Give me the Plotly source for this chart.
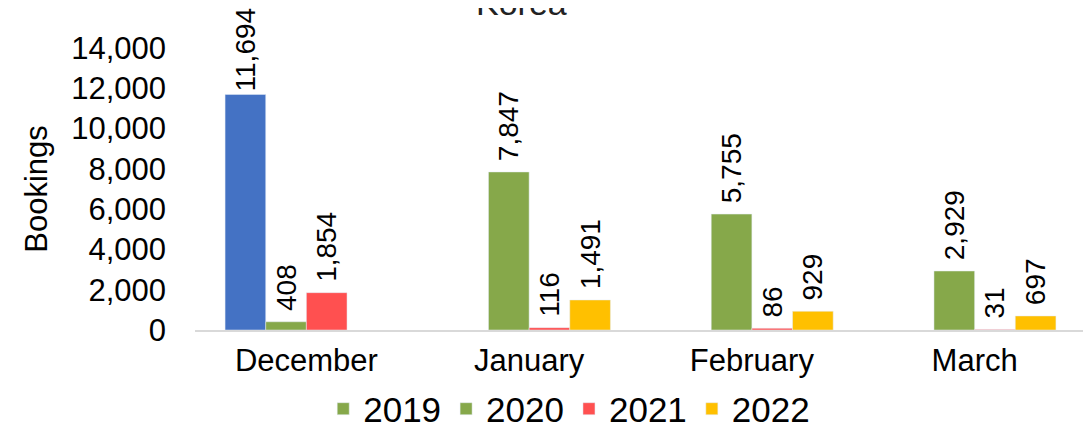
import plotly.graph_objects as go

categories = ["December", "January", "February", "March"]
series_names = ["2019", "2020", "2021", "2022"]

# 2019 listed with December last so the legend swatch takes the series (green) colour
x_2019 = ["January", "February", "March", "December"]
v_2019 = [None, None, None, 11694]
v_2020 = [408, 7847, 5755, 2929]
v_2021 = [1854, 116, 86, 31]
v_2022 = [None, 1491, 929, 697]

GREEN = "#86A84A"
BLUE = "#4472C4"
RED = "#FF5050"
YELLOW = "#FFC000"
colors_2019 = [GREEN, GREEN, GREEN, BLUE]

FONT = "Liberation Sans, Arial, sans-serif"
label_font = dict(family=FONT, size=28, color="black")

common = dict(textposition="outside", textangle=-90, textfont=label_font,
              cliponaxis=False, constraintext="none")

fig = go.Figure()
fig.add_trace(go.Bar(name="2019", x=x_2019, y=v_2019, marker_color=colors_2019,
                     texttemplate="%{y:,}", **common))
fig.add_trace(go.Bar(name="2020", x=categories, y=v_2020, marker_color=GREEN,
                     texttemplate="\u00a0%{y:,}", **common))
fig.add_trace(go.Bar(name="2021", x=categories, y=v_2021, marker_color=RED,
                     texttemplate="\u00a0%{y:,}", **common))
fig.add_trace(go.Bar(name="2022", x=categories, y=v_2022, marker_color=YELLOW,
                     texttemplate="\u00a0%{y:,}", **common))

fig.update_layout(
    width=1091, height=426,
    margin=dict(l=187, r=13, t=40, b=104, autoexpand=False),
    paper_bgcolor="white", plot_bgcolor="white",
    barmode="group", bargap=0.27, bargroupgap=0,
    font=dict(family=FONT, color="black"),
    annotations=[dict(text="Korea", xref="paper", yref="paper", x=(521 - 195) / 891,
                      y=1 + (48 - 3) / 282, xanchor="center", yanchor="middle",
                      showarrow=False, font=dict(size=34, family=FONT, color="#222222"))],
    legend=dict(orientation="h", x=0.42, xanchor="center", y=-0.28, yanchor="middle",
                font=dict(size=35, family=FONT), itemwidth=30, traceorder="normal"),
    showlegend=True,
)
fig.update_xaxes(categoryorder="array", categoryarray=categories,
                 showline=True, linecolor="#D9D9D9", linewidth=2,
                 showgrid=False, ticks="", tickfont=dict(size=31, family=FONT),
                 ticklabelstandoff=2)
fig.update_yaxes(range=[0, 14000], tickvals=[0, 2000, 4000, 6000, 8000, 10000, 12000, 14000],
                 tickformat=",", showgrid=False, zeroline=False, showline=False,
                 tickfont=dict(size=31, family=FONT), ticklabelstandoff=28,
                 title=dict(text="Bookings", font=dict(size=31, family=FONT), standoff=14))

fig.write_html("out.html")
